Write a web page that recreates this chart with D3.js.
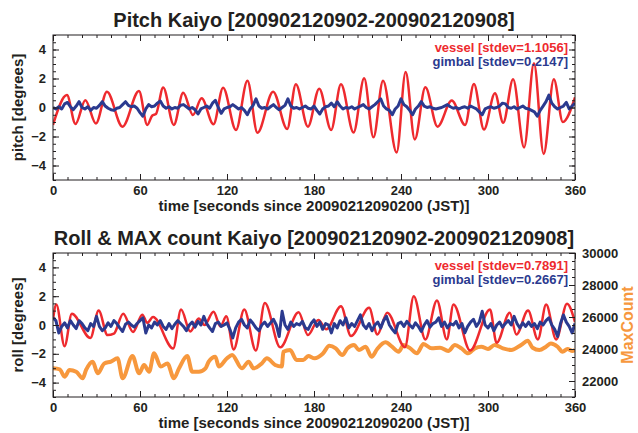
<!DOCTYPE html>
<html>
<head>
<meta charset="utf-8">
<script src="https://cdn.jsdelivr.net/npm/d3@7/dist/d3.min.js"></script>
<style>
  body { margin: 0; background: #fff; }
  svg { display: block; font-family: "Liberation Sans", Arial, Helvetica, sans-serif; font-weight: bold; }
</style>
</head>
<body>
<svg id="chart" width="638" height="433"></svg>
<script>
// ### DATA

var xTicks = [0, 60, 120, 180, 240, 300, 360];
var yTicks = [-4, -2, 0, 2, 4];
var countTicks = [22000, 24000, 26000, 28000, 30000];

// vessel pitch: turning points [seconds, degrees]
var pitchVessel = [
  [0, -1.2], [9.6, 0.86], [15.5, -1.14], [22.3, 0.5], [29.6, -1.1], [37.2, 1.09],
  [47.9, -1.32], [59.3, 1.14], [65, -1.2], [68.5, -0.55], [71, -0.45], [76, 1.38],
  [83.3, -1.2], [89.8, 1.02], [96.5, -0.52], [102.5, 0.63], [110.7, -1.16], [117.3, 1.37],
  [126.2, -1.55], [134.1, 1.84], [141, -1.74], [151.8, 1.09], [161.5, -1.48], [167.5, 1.6],
  [175.8, -1.32], [183.6, 1.3], [191.8, -1.55], [198.6, 1.6], [207.3, -1.72], [214.6, 2.01],
  [221, -2.06], [227.6, 1.85], [237, -3.11], [243.2, 2.45], [249.5, -2.2], [256.8, 1.39],
  [265.2, -1.32], [275, 0.48], [284.2, -1.2], [290.3, 1.62], [297.2, -1.52], [304.8, 0.98],
  [310.5, -1.05], [317.3, 1.94], [324.9, -2.75], [331.7, 3.05], [338.4, -3.2], [345.4, 1.94],
  [351.6, -1.0], [360, 0.7]
];

// gimbal pitch, one value every 2 s
var gimbalStep = 2;
var pitchGimbal = [
  0.0, -0.1, 0.05, -0.1, 0.25, 0.35, 0.05, -0.15, 0.1, 0.4,
  0.0, -0.1, 0.05, -0.2, 0.0, -0.05, 0.15, 0.4, 0.1, -0.05,
  -0.15, -0.2, -0.05, 0.0, 0.2, 0.4, 0.15, 0.05, 0.1, -0.05,
  -0.35, -0.6, -0.1, 0.2, 0.05, 0.1, 0.3, 0.45, 0.1, -0.05,
  0.05, -0.1, 0.0, -0.05, 0.15, 0.2, 0.05, -0.1, 0.0, -0.15,
  -0.45, -0.1, 0.0, 0.1, -0.05, 0.3, 0.5, 0.0, -0.4, -0.1,
  0.0, 0.05, 0.2, 0.05, -0.1, 0.0, -0.2, -0.5, -0.1, 0.15,
  0.6, 0.1, -0.05, 0.0, -0.1, 0.05, 0.2, 0.0, -0.15, 0.0,
  0.15, 0.6, 0.1, -0.05, 0.0, -0.1, 0.0, 0.1, -0.05, -0.1,
  0.1, -0.2, -0.45, -0.1, 0.05, 0.1, 0.3, 0.05, 0.4, 0.1,
  -0.1, 0.0, -0.05, 0.05, -0.1, 0.0, 0.1, 0.2, 0.0, -0.1,
  0.05, 0.2, 0.4, 0.6, 0.1, -0.1, -0.2, -0.5, -0.1, 0.1,
  0.6, 0.2, 0.05, -0.2, -0.5, -0.1, 0.1, 0.4, 0.1, 0.0,
  0.05, -0.05, -0.1, -0.05, 0.0, 0.1, 0.2, 0.05, -0.05, 0.0,
  -0.1, 0.0, 0.05, -0.05, 0.1, 0.0, -0.1, -0.3, -0.5, -0.1,
  0.0, 0.05, -0.05, 0.0, 0.1, 0.3, 0.25, 0.0, -0.05, 0.05,
  -0.1, 0.0, 0.1, -0.05, -0.1, -0.2, -0.3, -0.6, -0.2, 0.1,
  0.4, 0.85, 0.3, 0.05, -0.1, 0.0, 0.1, 0.35, -0.1, 0.1,
  0.3
];

// vessel roll: turning points [seconds, degrees]
var rollVessel = [
  [0, 0.38], [2.3, 1.42], [8, -1.47], [13, 0.78], [25.8, -0.9], [31.5, 1.0],
  [37.6, -0.7], [42, -0.6], [48.4, 0.78], [55.2, -0.48], [61.6, 0.72], [65, 0.15],
  [69, 0.55], [82.9, -1.63], [88.3, 1.07], [94.7, -0.45], [100.5, 0.45], [104.5, 0.0],
  [110.7, 0.92], [115.5, -0.1], [119.5, 0.6], [124.6, -1.7], [131.9, 1.07], [139.9, -1.77],
  [146.1, 1.52], [156.7, -1.55], [169.4, 0.88], [175.8, -0.7], [183, 0.35], [188.5, -0.3],
  [198.6, 1.3], [205.5, -0.77], [218, 1.19], [223.7, -0.66], [230.5, 0.85], [242.7, -1.54],
  [248.8, 2.0], [256.8, -1.0], [264.8, 1.7], [271.6, -1.0], [276.2, 1.42], [287.7, -1.77],
  [301.4, 1.08], [305.9, -1.24], [315, 0.85], [319.6, -0.66], [327.6, 1.0], [334.4, -1.0],
  [340.1, 1.42], [347, -1.0], [354.5, 1.47], [360, 0.2]
];

// gimbal roll, one value every 2 s
var rollGimbal = [
  0.5, 0.3, -0.55, -0.1, 0.15, -0.2, 0.3, 0.0, -0.25, 0.3,
  0.1, -0.2, -0.4, 0.1, -0.1, 0.6, -0.1, -0.4, -0.2, 0.15,
  -0.1, 0.3, 0.1, -0.2, -0.45, 0.05, 0.2, 0.0, -0.15, 0.1,
  0.3, 0.5, -0.55, 0.0, -0.2, 0.2, 0.0, 0.3, -0.1, -0.3,
  0.1, -0.25, 0.05, 0.3, 0.1, -0.1, -0.4, 0.0, 0.2, -0.15,
  0.25, 0.0, 0.6, 0.1, -0.2, -0.45, 0.1, 0.2, -0.1, 0.0,
  0.15, -0.3, -0.9, -0.2, 0.2, 0.4, 0.0, -0.2, 0.35, 0.1,
  -0.2, -0.4, 0.0, 0.2, -0.1, 0.15, 0.4, 0.0, -0.8, 0.95,
  0.0, -0.3, 0.2, -0.1, 0.1, 0.0, 0.25, -0.2, -0.3, 0.1,
  0.35, -0.1, 0.2, -0.3, 0.1, 0.0, -0.55, 0.1, -0.2, 0.3,
  0.0, 0.5, -0.2, 0.1, -0.1, 0.3, 0.7, 0.0, -0.25, 0.1,
  -0.4, 0.0, 0.2, -0.2, 0.3, 0.6, 0.0, -0.3, -0.55, 0.1,
  0.2, -0.1, 0.25, 0.0, -0.2, 0.15, -0.1, -0.45, 0.0, 0.3,
  -0.15, 0.1, 0.2, 0.5, -0.1, 0.2, -0.2, 0.1, 0.0, 0.25,
  -0.2, 0.1, -0.55, -0.1, 0.2, 0.4, -0.1, 0.2, 0.95, 0.0,
  -0.2, 0.1, -0.4, 0.0, 0.2, -0.15, 0.1, 0.3, 0.0, 0.6,
  0.1, -0.2, 0.15, -0.1, 0.2, -0.1, 0.1, -0.25, 0.2, 0.0,
  0.3, 0.5, 0.0, -0.3, -0.8, 0.1, 0.7, 0.2, -0.1, -0.55,
  0.1
];

// MAX count [seconds, count]
var maxCount = [
  [0, 22790], [4.6, 22730], [8, 22270], [11.4, 22690], [16, 22580], [20.5, 22170],
  [22.8, 22690], [27.4, 23210], [30.8, 22480], [35.4, 23100], [40, 23210], [44.5, 23420],
  [48, 22170], [54.8, 23560], [59.4, 22480], [62.8, 23000], [66.3, 22580], [69.7, 23730],
  [74.3, 22900], [78.9, 23100], [83.4, 22170], [86.9, 22790], [92.6, 23560], [96, 22580],
  [100.6, 22580], [105.2, 22790], [107.4, 23210], [112, 23520], [114.3, 22900], [120, 23420],
  [123.5, 23630], [130.3, 22790], [134.9, 23210], [138.3, 22790], [144, 23100], [147.5, 23420],
  [153.2, 23000], [157.8, 22900], [158.9, 23830], [163.5, 23940], [168, 23310], [172.6, 23310],
  [176, 23560], [180.5, 23420], [186, 23700], [190.6, 24200], [195, 24040], [199.5, 23625],
  [203, 24040], [207.6, 24250], [211, 23940], [215.6, 24144], [219.7, 23520], [223.6, 24000],
  [229.3, 24415], [233.8, 24144], [238.4, 23830], [241.8, 24250], [246.4, 24040], [251, 23730],
  [255.5, 24310], [261.2, 24040], [266.9, 24080], [272.6, 23880], [277.2, 24250], [281.7, 24040],
  [286.3, 23730], [290.9, 24040], [295.4, 24144], [300, 24000], [304.6, 24250], [310.3, 24040],
  [316, 23940], [322.8, 24250], [327.4, 24520], [330.8, 24080], [335.4, 23940], [340, 24144],
  [343.4, 24350], [348, 24144], [351.4, 23830], [354.8, 24000], [358.3, 23880], [360, 23950]
];

var pitchLegend = ["vessel [stdev=1.1056]", "gimbal [stdev=0.2147]"];
var rollLegend = ["vessel [stdev=0.7891]", "gimbal [stdev=0.2667]"];

// ### LAYOUT

var left = 53, right = 575;
var red = "#ee2a2e", navy = "#2b3a8f", orange = "#f7983d", ink = "#231f20";

var svg = d3.select("#chart");

var x = d3.scaleLinear().domain([0, 360]).range([left, right]);

var panels = [
  { top: 35, bottom: 180, title: "Pitch Kaiyo [200902120902-200902120908]",
    ylabel: "pitch [degrees]", vessel: pitchVessel, gimbal: pitchGimbal, legend: pitchLegend, count: null },
  { top: 253, bottom: 397, title: "Roll & MAX count Kaiyo [200902120902-200902120908]",
    ylabel: "roll [degrees]", vessel: rollVessel, gimbal: rollGimbal, legend: rollLegend, count: maxCount }
];

panels.forEach(function(p, idx) {
  var y = d3.scaleLinear().domain([-5, 5]).range([p.bottom, p.top]);
  var g = svg.append("g");

  g.append("clipPath").attr("id", "clip" + idx)
    .append("rect")
    .attr("x", left).attr("y", p.top)
    .attr("width", right - left).attr("height", p.bottom - p.top);

  var plot = g.append("g").attr("clip-path", "url(#clip" + idx + ")");

  // MAX count first, it sits under the other lines
  if (p.count) {
    var yc = d3.scaleLinear().domain([21000, 30000]).range([p.bottom, p.top]);
    plot.append("path")
      .datum(p.count)
      .attr("fill", "none")
      .attr("stroke", orange)
      .attr("stroke-width", 4)
      .attr("stroke-linejoin", "round")
      .attr("d", d3.line()
        .curve(d3.curveMonotoneX)
        .x(function(d) { return x(d[0]); })
        .y(function(d) { return yc(d[1]); }));

    // right axis for counts
    var ra = g.append("g").attr("transform", "translate(" + right + ",0)");
    ra.call(d3.axisRight(yc).tickValues(countTicks).tickSize(-6).tickPadding(7)
      .tickFormat(d3.format("d")));
    ra.append("g").call(d3.axisRight(yc).tickValues(d3.range(21000, 30001, 500))
      .tickSize(-3).tickFormat(""));
    ra.selectAll(".domain").remove();
    ra.selectAll("text").attr("font-size", 13).attr("fill", ink)
      .attr("font-family", "Liberation Sans, Arial, sans-serif").attr("font-weight", "bold");
    ra.selectAll("line").attr("stroke", ink);

    g.append("text")
      .attr("transform", "translate(633," + ((p.top + p.bottom) / 2) + ") rotate(-90)")
      .attr("text-anchor", "middle")
      .attr("font-size", 16)
      .attr("fill", orange)
      .text("MaxCount");
  }

  plot.append("path")
    .datum(p.vessel)
    .attr("fill", "none")
    .attr("stroke", red)
    .attr("stroke-width", 2.5)
    .attr("d", d3.line()
      .curve(d3.curveMonotoneX)
      .x(function(d) { return x(d[0]); })
      .y(function(d) { return y(d[1]); }));

  plot.append("path")
    .datum(p.gimbal)
    .attr("fill", "none")
    .attr("stroke", navy)
    .attr("stroke-width", 3)
    .attr("stroke-linejoin", "round")
    .attr("d", d3.line()
      .x(function(d, i) { return x(i * gimbalStep); })
      .y(function(d) { return y(d); }));

  // frame
  g.append("rect")
    .attr("x", left).attr("y", p.top)
    .attr("width", right - left).attr("height", p.bottom - p.top)
    .attr("fill", "none").attr("stroke", ink).attr("stroke-width", 1);

  // ### AXES
  var axes = [];
  var bx = g.append("g").attr("transform", "translate(0," + p.bottom + ")");
  bx.call(d3.axisBottom(x).tickValues(xTicks).tickSize(-6).tickPadding(6));
  bx.append("g").call(d3.axisBottom(x).tickValues(d3.range(0, 361, 10)).tickSize(-3).tickFormat(""));
  axes.push(bx);

  var tx = g.append("g").attr("transform", "translate(0," + p.top + ")");
  tx.call(d3.axisTop(x).tickValues(xTicks).tickSize(-6).tickFormat(""));
  tx.append("g").call(d3.axisTop(x).tickValues(d3.range(0, 361, 10)).tickSize(-3).tickFormat(""));
  axes.push(tx);

  var ly = g.append("g").attr("transform", "translate(" + left + ",0)");
  ly.call(d3.axisLeft(y).tickValues(yTicks).tickSize(-6).tickPadding(7));
  ly.append("g").call(d3.axisLeft(y).tickValues(d3.range(-5, 5.01, 0.5)).tickSize(-3).tickFormat(""));
  axes.push(ly);

  if (!p.count) {
    var ry = g.append("g").attr("transform", "translate(" + right + ",0)");
    ry.call(d3.axisRight(y).tickValues(yTicks).tickSize(-6).tickFormat(""));
    ry.append("g").call(d3.axisRight(y).tickValues(d3.range(-5, 5.01, 0.5)).tickSize(-3).tickFormat(""));
    axes.push(ry);
  }

  axes.forEach(function(a) {
    a.selectAll(".domain").remove();
    a.selectAll("line").attr("stroke", ink);
    a.selectAll("text").attr("font-size", 13).attr("fill", ink)
      .attr("font-family", "Liberation Sans, Arial, sans-serif").attr("font-weight", "bold");
  });

  // ### TEXTS
  g.append("text")
    .attr("x", (left + right) / 2).attr("y", p.top - 8)
    .attr("text-anchor", "middle")
    .attr("font-size", 20)
    .attr("fill", ink)
    .text(p.title);

  g.append("text")
    .attr("x", (left + right) / 2).attr("y", p.bottom + 31)
    .attr("text-anchor", "middle")
    .attr("font-size", 15)
    .attr("fill", ink)
    .text("time [seconds since 20090212090200 (JST)]");

  g.append("text")
    .attr("transform", "translate(23," + ((p.top + p.bottom) / 2) + ") rotate(-90)")
    .attr("text-anchor", "middle")
    .attr("font-size", 15)
    .attr("fill", ink)
    .text(p.ylabel);

  g.append("text")
    .attr("x", 568).attr("y", p.top + 17)
    .attr("text-anchor", "end").attr("font-size", 13).attr("fill", red)
    .text(p.legend[0]);
  g.append("text")
    .attr("x", 568).attr("y", p.top + 31)
    .attr("text-anchor", "end").attr("font-size", 13).attr("fill", navy)
    .text(p.legend[1]);
});
</script>
</body>
</html>
